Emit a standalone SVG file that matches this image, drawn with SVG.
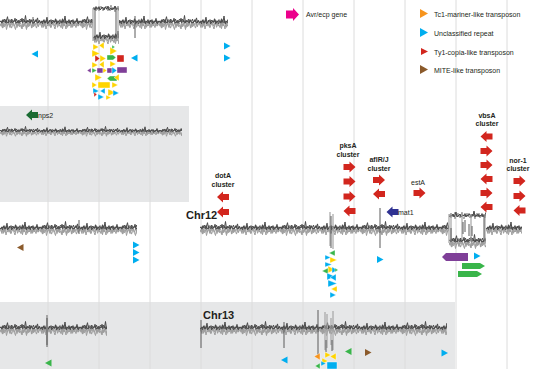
<svg xmlns="http://www.w3.org/2000/svg" xmlns:xlink="http://www.w3.org/1999/xlink" width="540" height="369" viewBox="0 0 540 369">
<style>
.grid{stroke:#dcdcdc;stroke-width:1;fill:none}
.band{fill:#e6e7e8}
.dk{stroke:#4a4a4a;stroke-width:1;fill:none;stroke-linejoin:round}
.lt{stroke:#9d9d9d;stroke-width:1;fill:none;stroke-linejoin:round}
.vd{stroke:#5a5a5a;stroke-width:1;fill:none}
.vl{stroke:#a6a6a6;stroke-width:1.2;fill:none}
.t{font-family:"Liberation Sans",Arial,sans-serif;font-size:7px;fill:#231f20}
.lb{font-family:"Liberation Sans",Arial,sans-serif;font-size:7px;font-weight:bold;fill:#231f20;text-anchor:middle}
.chr{font-family:"Liberation Sans",Arial,sans-serif;font-size:11px;font-weight:bold;fill:#231f20}
.y{fill:#ffd400}.b{fill:#00aeef}.g{fill:#39b54a}.r{fill:#d2261e}.p{fill:#7f3f98}.o{fill:#f7941d}.br{fill:#8b5a2b}
.cl polygon,.cl rect,.cl path{stroke:#fff;stroke-width:0.4}
</style>
<defs>
<path id="d1" class="dk" vector-effect="non-scaling-stroke" d="M0,0 L1,-1 2,1 3,-2 4,0 5,0 6,-2 7,1 8,0 9,-2 10,-1 11,1 12,-2 13,-1 14,0 15,-3 16,1 17,0 18,-1 19,1 20,-1 21,0 22,-3 23,0 24,0 25,-1 26,1 27,-1 28,0 29,-1 30,1 31,-2 32,0 33,1 34,0 35,0 36,-2 37,0 38,1 39,-1 40,0"/>
<path id="d2" class="dk" vector-effect="non-scaling-stroke" d="M0,0 L1,1 2,-1 3,0 4,-2 5,1 6,-1 7,-4 8,1 9,0 10,-1 11,-2 12,1 13,0 14,-1 15,0 16,-2 17,1 18,-1 19,0 20,-2 21,-1 22,1 23,-2 24,0 25,-5 26,1 27,-1 28,0 29,-2 30,1 31,-1 32,0 33,-2 34,1 35,-1 36,0 37,-3 38,1 39,-1 40,0"/>
<path id="l1" class="lt" vector-effect="non-scaling-stroke" d="M0,1 L1,3 2,0 3,4 4,1 5,2 6,-1 7,3 8,2 9,0 10,4 11,1 12,2 13,-1 14,3 15,2 16,0 17,4 18,1 19,3 20,0 21,2 22,5 23,1 24,3 25,-1 26,2 27,4 28,0 29,3 30,1 31,2 32,4 33,0 34,3 35,1 36,2 37,-1 38,3 39,2 40,1"/>
<path id="l2" class="lt" vector-effect="non-scaling-stroke" d="M0,1 L1,2 2,4 3,0 4,3 5,1 6,5 7,2 8,0 9,3 10,1 11,4 12,2 13,0 14,3 15,5 16,1 17,2 18,-1 19,3 20,2 21,4 22,0 23,3 24,1 25,2 26,5 27,0 28,3 29,2 30,-1 31,4 32,1 33,3 34,0 35,2 36,4 37,1 38,3 39,0 40,1"/>
<g id="s1"><use href="#l1" transform="scale(1,1.4)"/><use href="#l2" transform="translate(0.5,0.5) scale(1,1.4)"/><use href="#d1" transform="scale(1,1.25)"/><use href="#d2" transform="translate(0.5,-0.5) scale(1,1.2)"/></g>
<g id="s2"><use href="#l2" transform="scale(1,1.4)"/><use href="#l1" transform="translate(0.5,-0.3) scale(1,1.4)"/><use href="#d2" transform="scale(1,1.2)"/><use href="#d1" transform="translate(0.5,0.5) scale(1,1.25)"/></g>
<path id="ar" d="M-6,-3 H0 V-5.5 L6,0 L0,5.5 V3 H-6 Z"/>
<path id="al" d="M6,-3 H0 V-5.5 L-6,0 L0,5.5 V3 H6 Z"/>
<path id="tr" d="M-3,-3.5 L3.5,0 L-3,3.5 Z"/>
<path id="tl" d="M3,-3.5 L-3.5,0 L3,3.5 Z"/>
<clipPath id="cTop"><rect x="0" y="0" width="93" height="60"/><rect x="119" y="0" width="109" height="60"/></clipPath>
<clipPath id="cGap"><rect x="93" y="0" width="26" height="50"/></clipPath>
<clipPath id="cB1"><rect x="0" y="110" width="182" height="40"/></clipPath>
<clipPath id="cC12L"><rect x="0" y="210" width="137" height="40"/></clipPath>
<clipPath id="cC12R"><rect x="200" y="210" width="249" height="40"/><rect x="486" y="210" width="36" height="40"/></clipPath>
<clipPath id="cBox"><rect x="449" y="205" width="37" height="45"/></clipPath>
<clipPath id="cC13L"><rect x="0" y="310" width="107" height="40"/></clipPath>
<clipPath id="cC13R"><rect x="200" y="310" width="247" height="40"/></clipPath>
</defs>

<g id="background">
<rect width="540" height="369" fill="#ffffff"/>
<rect class="band" x="0" y="106" width="189" height="96"/>
<rect class="band" x="0" y="302" width="455" height="67"/>
<path class="grid" d="M48,0V369M99,0V369M150,0V369M201,0V369M252,0V369M303,0V369M354,0V369M405,0V369M456,0V369M507,0V369"/>
</g>

<g id="track-top">
<g clip-path="url(#cTop)">
<use href="#s1" x="0" y="22"/><use href="#s2" x="40" y="22"/><use href="#s1" x="80" y="22"/>
<use href="#s2" x="119" y="22"/><use href="#s1" x="159" y="22"/><use href="#s2" x="199" y="22"/>
</g>
<g clip-path="url(#cGap)">
<use href="#l2" x="93" y="6"/><use href="#l1" x="93" y="7"/><use href="#d1" x="93" y="9"/>
<use href="#s2" x="93" y="37"/>
</g>
<path class="vl" d="M93,8V41M118,7V41"/>
<path class="vd" d="M95,9V40M116,9V39M135,16V38M33,17V24"/>
</g>

<g id="track-band1">
<g clip-path="url(#cB1)">
<use href="#s1" transform="translate(0,131) scale(1,0.7)"/><use href="#s2" transform="translate(40,131) scale(1,0.7)"/>
<use href="#s1" transform="translate(80,131) scale(1,0.7)"/><use href="#s2" transform="translate(120,131) scale(1,0.7)"/>
<use href="#s1" transform="translate(160,131) scale(1,0.7)"/>
</g>
</g>

<g id="track-chr12">
<g clip-path="url(#cC12L)">
<use href="#s2" x="0" y="228"/><use href="#s1" x="40" y="228"/><use href="#s2" x="80" y="228"/><use href="#s1" x="120" y="228"/>
</g>
<path class="vd" d="M79,220V234"/>
<g clip-path="url(#cC12R)">
<use href="#s1" x="200" y="228"/><use href="#s2" x="240" y="228"/><use href="#s1" x="280" y="228"/><use href="#s2" x="320" y="228"/>
<use href="#s1" x="360" y="228"/><use href="#s2" x="400" y="228"/><use href="#s1" x="440" y="228"/><use href="#s2" x="486" y="228"/>
</g>
<g clip-path="url(#cBox)">
<use href="#l1" x="449" y="213"/><use href="#l2" x="449" y="214"/><use href="#d2" x="449" y="216"/>
<use href="#s1" x="449" y="241"/>
</g>
<path class="vl" d="M449,214V243M451,213V243M462,214V240M471,214V242M485,214V243M330,212V246M333,214V249"/>
<path class="vd" d="M451,228V242M463,222V234M465,220V232M469,224V236M472,226V236M484,216V242M331,216V248M380,208V248"/>
</g>

<g id="track-chr13">
<g clip-path="url(#cC13L)">
<use href="#s1" x="0" y="328"/><use href="#s2" x="40" y="328"/><use href="#s1" x="80" y="328"/>
</g>
<path class="vl" d="M47,315V345" style="stroke-width:2"/>
<path class="vd" d="M47,318V347"/>
<g clip-path="url(#cC13R)">
<use href="#s2" x="200" y="328"/><use href="#s1" x="240" y="328"/><use href="#s2" x="280" y="328"/><use href="#s1" x="320" y="328"/>
<use href="#s2" x="360" y="328"/><use href="#s1" x="400" y="328"/><use href="#s2" x="440" y="328"/>
</g>
<path class="vl" d="M325,312V350M327,314V348M333,311V350M331,318V345"/>
<path class="vd" d="M201,320V348M284,322V348M318,310V356M326,340V352M332,340V351"/>
</g>

<g id="label-chr12"><text class="chr" x="186" y="219">Chr12</text></g>
<g id="label-chr13"><text class="chr" x="203" y="319">Chr13</text></g>

<g id="legend">
<g id="leg-avr"><path d="M286,10.5H293V8L299,14.5L293,21V18.5H286Z" fill="#ec008c"/><text class="t" x="306" y="17">Avr/ecp gene</text></g>
<g id="leg-tc1"><path d="M420,9L428,13.5L420,18Z" class="o"/><text class="t" x="434" y="16.5">Tc1-mariner-like transposon</text></g>
<g id="leg-unc"><path d="M420,28L428,32.5L420,37Z" class="b"/><text class="t" x="434" y="35.5">Unclassified repeat</text></g>
<g id="leg-ty1"><path d="M421,48L428,51.5L421,55Z" class="r"/><text class="t" x="434" y="54.5">Ty1-copia-like transposon</text></g>
<g id="leg-mite"><path d="M420,65L428,69.5L420,74Z" class="br"/><text class="t" x="434" y="72.5">MITE-like transposon</text></g>
</g>

<g id="gene-nps2"><use href="#al" x="32" y="115" fill="#1a6b33"/><text class="t" x="38" y="118">nps2</text></g>
<g id="gene-mat1"><use href="#al" x="392.5" y="212" fill="#2e3192"/><text class="t" x="398" y="215">mat1</text></g>

<g id="cluster-dotA" class="r">
<text class="lb" x="223" y="178">dotA</text><text class="lb" x="223" y="186.5">cluster</text>
<use href="#al" x="223" y="197"/><use href="#al" x="223" y="212"/>
</g>
<g id="cluster-pksA" class="r">
<text class="lb" x="348" y="148">pksA</text><text class="lb" x="348" y="156.5">cluster</text>
<use href="#ar" x="349.5" y="167"/><use href="#ar" x="349.5" y="181.5"/><use href="#ar" x="349.5" y="196.5"/><use href="#al" x="349.5" y="211"/>
</g>
<g id="cluster-aflRJ" class="r">
<text class="lb" x="379" y="162">aflR/J</text><text class="lb" x="379" y="170.5">cluster</text>
<use href="#ar" x="379" y="180"/><use href="#al" x="379" y="194"/>
</g>
<g id="gene-estA" class="r">
<text class="t" x="411" y="185">estA</text>
<use href="#ar" x="419.5" y="193"/>
</g>
<g id="cluster-vbsA" class="r">
<text class="lb" x="487" y="117.5">vbsA</text><text class="lb" x="487" y="126">cluster</text>
<use href="#al" x="486.5" y="136.5"/><use href="#ar" x="486.5" y="151"/><use href="#ar" x="486.5" y="165"/><use href="#al" x="486.5" y="179"/><use href="#ar" x="486.5" y="193"/><use href="#al" x="486.5" y="207"/>
</g>
<g id="cluster-nor1" class="r">
<text class="lb" x="518" y="162.5">nor-1</text><text class="lb" x="518" y="171">cluster</text>
<use href="#ar" x="519.5" y="181"/><use href="#ar" x="519.5" y="196"/><use href="#al" x="519.5" y="210.5"/>
</g>

<g id="te-top">
<use href="#tl" x="35" y="54" class="b"/>
<use href="#tl" x="134.5" y="58" class="b"/>
<use href="#tr" x="227" y="46" class="b"/>
<use href="#tr" x="227" y="58" class="b"/>
</g>

<g id="te-cluster-top" class="cl">
<polygon class="y" points="93,44 99,47 93,50"/>
<polygon class="y" points="104,42 104,49 99,45.5"/>
<polygon class="y" points="92,50 100,53.5 92,57"/>
<polygon class="y" points="110,47 117,51 110,55"/>
<polygon class="g" points="112,45 115,47 112,49"/>
<polygon class="r" points="95,55 100,58.5 95,62"/>
<polygon class="y" points="100,55 106,58.5 100,62"/>
<path class="g" d="M107,55H113L116,57.5L113,60H107Z"/>
<rect class="r" x="117" y="55" width="7" height="7"/>
<polygon class="y" points="92,62 98,65 92,68"/>
<polygon class="y" points="104,61 104,68 99,64.5"/>
<polygon class="y" points="110,61 116,64 110,67"/>
<polygon class="p" points="87,70.5 91,68 91,73"/>
<polygon class="g" points="92,68 97,70.5 92,73"/>
<rect class="p" x="97" y="68" width="6" height="5"/>
<polygon class="y" points="103,68 107,70.5 103,73"/>
<rect class="p" x="107" y="68" width="5" height="5"/>
<polygon class="b" points="112,67 117,70.5 112,74"/>
<rect class="p" x="117" y="67" width="10" height="6"/>
<polygon class="y" points="95,74 102,77.5 95,81"/>
<path class="g" d="M117,76H110L107,78.5L110,81H117Z"/>
<polygon class="y" points="119,74 119,81 114,77.5"/>
<polygon class="y" points="92,82 97,85 92,88"/>
<rect class="y" x="98" y="82" width="12" height="6"/>
<polygon class="y" points="112,82 118,85 112,88"/>
<polygon class="b" points="93,88 99,91 93,94"/>
<polygon class="b" points="105,88 105,94 100,91"/>
<polygon class="y" points="108,89 116,92.5 108,96"/>
<polygon class="b" points="113,90 119,93 113,96"/>
<polygon class="r" points="94,92 97,94.5 94,97"/>
<polygon class="b" points="98,94 104,97 98,100"/>
<polygon class="y" points="106,95 111,97.5 106,100"/>
</g>

<g id="te-chr12">
<use href="#tl" x="20.5" y="247.5" class="br"/>
<use href="#tr" x="136" y="245" class="b"/>
<use href="#tr" x="136" y="252.5" class="b"/>
<use href="#tr" x="136" y="260" class="b"/>
<use href="#tr" x="380" y="259.5" class="b"/>
<path class="p" d="M468,253H446L442,257L446,261H468Z"/>
<use href="#tr" x="477" y="256" class="b"/>
<path class="g" d="M462,263H480L485,266L480,269H462Z"/>
<path class="g" d="M458,271H477L482,274L477,277H458Z"/>
</g>

<g id="te-cluster-chr12" class="cl">
<polygon class="g" points="335,250 335,256 329,253"/>
<polygon class="b" points="325,255 331,257.5 325,260"/>
<polygon class="y" points="330,257 337,260 330,263"/>
<polygon class="b" points="325,262 332,264.5 325,267"/>
<polygon class="y" points="328,266 335,269.5 328,273"/>
<polygon class="g" points="328,268 328,274 322,271"/>
<polygon class="b" points="332,267 338,270 332,273"/>
<polygon class="g" points="335,268 338,270 335,272"/>
<polygon class="b" points="327,273 335,276.5 327,280"/>
<polygon class="b" points="336,274 336,281 330,277.5"/>
<polygon class="b" points="328,280 337,283.5 328,287"/>
<polygon class="y" points="337,286 337,292 331,289"/>
<polygon class="b" points="330,292 336,295 330,298"/>
</g>

<g id="te-chr13">
<use href="#tl" x="48.5" y="363" class="g"/>
<use href="#tl" x="284.5" y="360" class="b"/>
<use href="#tl" x="348.5" y="351.5" class="g"/>
<use href="#tr" x="368" y="352.5" class="br"/>
<use href="#tr" x="444.5" y="353" class="b"/>
</g>

<g id="te-cluster-chr13" class="cl">
<polygon class="o" points="320,353 320,360 314,356.5"/>
<polygon class="y" points="325,352 331,355 325,358"/>
<polygon class="y" points="336,353 336,360 330,356.5"/>
<polygon class="y" points="322,358 328,361 322,364"/>
<polygon class="b" points="321,361 326,363.5 321,366"/>
<polygon class="g" points="320,363 320,369 315,366"/>
<rect class="b" x="327" y="362" width="10" height="7"/>
</g>

<g id="connectors"/>
</svg>
